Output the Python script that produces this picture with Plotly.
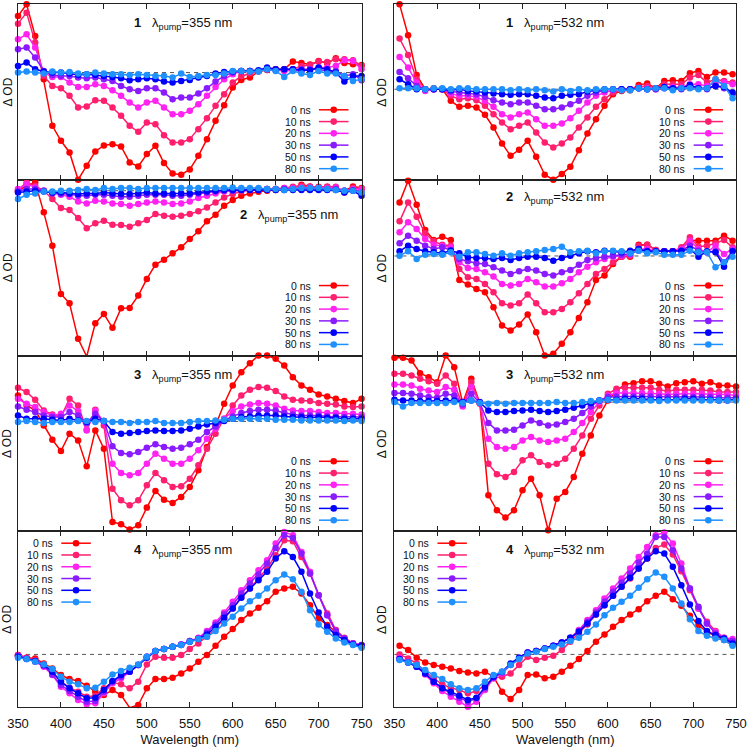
import plotly.graph_objects as go
from plotly.subplots import make_subplots

# ---------------- data (ΔOD, arbitrary units) ----------------
WL_FULL = list(range(350, 751, 10))    # 41 wavelengths (nm)
WL_SHIFT = list(range(356, 747, 10))   # 40 wavelengths (nm)
DELAYS = ["0 ns", "10 ns", "20 ns", "30 ns", "50 ns", "80 ns"]

# compound 1, pump 355 nm
c1_355_0 = [170, 205, 110, -20, -160, -205, -240, -322, -280, -237,
            -219, -215, -222, -270, -282, -245, -220, -272, -303, -307,
            -291, -250, -200, -145, -98, -45, -22, -15, 3, 8,
            10, 10, 33, 29, 24, 35, 28, 43, 29, 25, 23]
c1_355_10 = [147, 180, 90, -10, -40, -47, -70, -105, -102, -83,
             -85, -105, -130, -160, -178, -150, -155, -188, -210, -210,
             -200, -170, -137, -100, -65, -30, -10, -3, 5, 10,
             10, 8, 10, 20, 23, 33, 32, 40, 40, 37, 20]
c1_355_20 = [100, 115, 75, 0, -13, -13, -30, -43, -43, -35,
             -40, -53, -70, -90, -105, -90, -85, -105, -125, -125,
             -115, -95, -70, -43, -20, -5, 5, 5, 5, 10,
             7, 5, 7, 5, 10, 15, 15, 20, 37, 35, 10]
c1_355_30 = [70, 75, 45, 5, -7, -10, -10, -15, -17, -15,
             -20, -25, -40, -50, -55, -47, -47, -60, -80, -75,
             -75, -63, -47, -27, -10, 0, 5, 5, 5, 10,
             8, 10, 10, 10, 10, 10, 5, 5, -10, -5, -23]
c1_355_50 = [20, 30, 10, 3, 0, 0, -3, -7, -5, -7,
             -10, -13, -17, -23, -20, -17, -20, -27, -30, -25,
             -22, -15, -10, -3, 2, 3, 5, 5, 7, 15,
             10, 10, 10, 7, 7, 15, 10, 0, -27, -10, -10]
c1_355_80 = [0, 3, 0, -3, 3, 0, 2, -3, -5, 0,
             -3, -5, -5, -7, -5, -7, -10, -10, -15, -3,
             -13, -10, -7, -7, -3, 5, 5, 3, 3, 10,
             5, -13, 5, -3, -7, 5, -3, -3, -10, -25, -20]

# compound 1, pump 532 nm
c1_532_0 = [255, 162, 43, 0, 3, 0, -35, -53, -50, -55,
            -77, -115, -163, -200, -182, -155, -203, -257, -272, -255,
            -233, -183, -133, -90, -50, -15, -5, -3, 13, 17,
            3, 25, 27, 25, 48, 55, 37, 50, 50, 45]
c1_532_10 = [152, 103, 30, 0, 0, 0, -20, -30, -27, -33,
             -50, -75, -100, -120, -110, -100, -130, -160, -175, -163,
             -145, -115, -85, -53, -30, -10, -3, 0, 7, 10,
             3, 15, 15, 15, 35, 43, 20, 30, 25, 20]
c1_532_20 = [97, 65, 20, -5, 0, 0, -13, -20, -20, -23,
             -35, -53, -75, -85, -75, -70, -90, -110, -110, -103,
             -87, -65, -40, -20, -10, -3, 0, 0, 3, 3,
             0, 7, 7, 5, 15, 15, 10, 20, 20, 15]
c1_532_30 = [52, 33, 10, 0, 0, 0, -7, -10, -13, -15,
             -23, -33, -40, -45, -40, -40, -50, -60, -60, -55,
             -45, -35, -20, -10, -3, 0, 0, 0, 3, 0,
             0, 3, 0, 0, 5, 3, 0, 10, 3, -15]
c1_532_50 = [30, 15, 0, 0, 0, 0, -3, 0, -5, -7,
             -10, -13, -15, -17, -15, -15, -20, -25, -27, -20,
             -17, -15, -7, -3, 0, 0, 0, 0, 3, 0,
             3, 7, 3, 3, 13, 3, 3, 10, 7, -10]
c1_532_80 = [3, 3, 3, 0, 3, 3, 0, 3, 3, 0,
             0, 0, 0, -3, 0, -3, 0, -3, -7, 0,
             -5, 0, -3, 0, 0, 0, -3, -3, 3, 0,
             3, 3, -3, 3, 3, 0, 3, 30, 10, -27]

# compound 2, pump 355 nm
c2_355_0 = [0, 15, 25, -65, -165, -310, -338, -445, -498, -398,
            -370, -412, -353, -352, -315, -265, -222, -207, -188, -170,
            -145, -122, -92, -72, -45, -28, -15, -8, -3, 0,
            2, 5, 8, 18, 13, 10, 12, 8, 0, 13, 8]
c2_355_10 = [2, 25, 15, 0, -25, -52, -58, -82, -113, -98,
             -90, -102, -103, -108, -98, -88, -70, -75, -78, -75,
             -70, -62, -50, -35, -20, -10, -2, 2, 5, 5,
             5, 8, 12, 15, 12, 12, 12, 12, -5, 8, 5]
c2_355_20 = [5, 20, 10, 0, -5, -12, -18, -32, -38, -30,
             -32, -38, -40, -45, -40, -35, -32, -35, -40, -38,
             -32, -22, -15, -8, -2, 0, 2, 2, 5, 5,
             5, 8, 8, 10, 10, 8, 8, 10, 0, 5, 5]
c2_355_30 = [-2, 5, 5, 0, -8, -10, -10, -15, -15, -12,
             -12, -15, -18, -18, -15, -12, -12, -12, -15, -15,
             -12, -8, -5, -2, 0, 0, 2, 2, 2, 5,
             5, 5, 5, 5, 8, 5, 5, 5, 0, 2, -5]
c2_355_50 = [-5, -2, 0, -2, -5, -5, -8, -10, -8, -8,
             -5, -8, -10, -10, -8, -5, -8, -8, -10, -8,
             -8, -5, -2, 0, 2, 2, 2, 2, 2, 2,
             2, 2, 2, 2, 2, 2, 2, 2, -5, 0, -15]
c2_355_80 = [-25, -12, -8, -2, -2, 0, 0, 2, 5, 2,
             8, 5, 8, 8, 5, 8, 8, 8, 8, 8,
             8, 8, 8, 8, 8, 10, 8, 8, 8, 5,
             5, 2, 5, 8, 8, 8, 5, 2, 0, 0, -5]

# compound 2, pump 532 nm
c2_532_0 = [161, 226, 154, 78, 48, 58, 48, -72, -86, -99,
            -109, -154, -209, -224, -206, -176, -229, -299, -294, -264,
            -229, -186, -139, -72, -59, -24, -2, -2, 34, 34,
            18, 14, 14, 21, 48, 46, 46, 46, 61, 46]
c2_532_10 = [104, 161, 118, 68, 44, 34, 31, -39, -64, -69,
             -84, -109, -142, -149, -142, -116, -142, -169, -169, -159,
             -139, -112, -84, -54, -39, -19, -2, 1, 31, 34,
             18, 14, 14, 26, 56, 28, 31, 38, 48, 26]
c2_532_20 = [71, 101, 81, 51, 34, 31, 26, -19, -36, -39,
             -49, -62, -84, -89, -84, -69, -79, -92, -92, -82,
             -69, -49, -32, -19, -9, -2, 1, 4, 21, 21,
             14, 14, 14, 21, 46, 21, 11, 31, 6, 21]
c2_532_30 = [38, 61, 46, 31, 21, 26, 18, -9, -16, -22,
             -24, -34, -44, -54, -46, -39, -44, -54, -59, -49,
             -42, -26, -12, -6, -2, 1, 4, 6, 16, 16,
             14, 14, 14, 16, 31, 16, 11, 14, -19, 16]
c2_532_50 = [14, 31, 21, 14, 11, 8, 16, 8, -4, -6,
             -6, -9, -6, -12, -6, -2, -2, -6, -14, -6,
             1, 8, 14, 11, 16, 14, 11, 16, 21, 14,
             14, 14, 14, 16, 21, -2, 14, 11, -32, 14]
c2_532_80 = [1, 14, -9, 4, 6, 4, 11, -2, 11, 11,
             6, 1, 8, 1, 8, 11, 14, 18, 21, 28,
             11, 14, 16, 8, 14, 16, 14, 8, 16, 8,
             11, 4, 4, 4, 16, 11, 11, -34, -19, -2]

# compound 3, pump 355 nm
c3_355_0 = [78, 48, 33, -12, -55, -89, -37, -57, -135, -27,
            -82, -302, -309, -325, -312, -259, -209, -235, -245, -227,
            -197, -147, -77, -12, 53, 108, 148, 175, 198, 198,
            188, 168, 133, 108, 95, 81, 75, 68, 61, 55, 68]
c3_355_10 = [101, 88, 65, 33, 21, 13, 68, 48, -25, 35,
             -12, -202, -237, -252, -237, -192, -155, -177, -197, -195,
             -172, -132, -82, -37, 8, 48, 78, 95, 103, 101,
             91, 75, 65, 63, 61, 55, 53, 51, 45, 43, 45]
c3_355_20 = [68, 53, 43, 28, 18, 23, 48, 31, -27, 33,
             -2, -127, -155, -162, -155, -127, -97, -112, -127, -127,
             -112, -87, -52, -22, 8, 31, 45, 51, 55, 53,
             48, 38, 33, 31, 31, 28, 25, 25, 23, 23, 21]
c3_355_30 = [45, 35, 28, 18, 13, 13, 28, 18, -5, 23,
             1, -75, -95, -99, -92, -79, -69, -77, -82, -79,
             -69, -55, -32, -15, 3, 15, 25, 31, 35, 35,
             33, 25, 21, 18, 18, 18, 15, 15, 13, 13, 13]
c3_355_50 = [18, 8, 8, 8, 5, 3, 8, 3, -2, 8,
             1, -32, -37, -35, -32, -29, -27, -29, -29, -27,
             -22, -15, -9, -5, 1, 8, 13, 15, 18, 18,
             18, 15, 13, 13, 11, 13, 11, 11, 8, 8, 8]
c3_355_80 = [-2, 1, -2, -5, -2, -2, -2, 1, 1, -2,
             1, -2, -2, -5, -2, -2, 1, -5, -5, -5,
             -2, 1, 1, 3, 5, 8, 8, 8, 8, 8,
             5, 5, 5, 3, 3, 3, 3, 3, 1, 3, 1]

# compound 3, pump 532 nm
c3_532_0 = [133, 133, 125, 87, 75, 60, 140, 105, -3, 70,
            -3, -280, -325, -347, -325, -265, -230, -280, -385, -290,
            -270, -225, -155, -100, -40, 5, 35, 53, 57, 63,
            63, 55, 47, 57, 60, 63, 55, 60, 50, 50, 47]
c3_532_10 = [85, 85, 80, 70, 63, 55, 80, 55, -10, 60,
             -5, -185, -217, -225, -210, -175, -160, -180, -190, -185,
             -170, -140, -100, -50, -10, 25, 40, 43, 43, 43,
             43, 37, 33, 37, 37, 37, 37, 35, 30, 30, 30]
c3_532_20 = [53, 53, 50, 40, 35, 30, 45, 37, -13, 45,
             -3, -110, -135, -140, -135, -115, -105, -115, -120, -115,
             -110, -90, -63, -30, 0, 20, 27, 27, 27, 27,
             27, 25, 23, 25, 25, 25, 25, 23, 23, 23, 20]
c3_532_30 = [27, 27, 25, 20, 15, 13, 25, 20, -7, 25,
             -3, -63, -85, -85, -83, -70, -55, -63, -70, -67,
             -60, -50, -33, -13, 5, 15, 17, 17, 17, 17,
             17, 15, 15, 15, 15, 15, 15, 15, 13, 13, 13]
c3_532_50 = [7, 5, 5, 3, 3, 3, 5, 5, 0, 5,
             0, -25, -30, -30, -27, -25, -23, -27, -30, -27,
             -23, -17, -10, -3, 5, 7, 7, 10, 10, 10,
             7, 7, 7, 7, 10, 10, 7, 7, 5, 5, 7]
c3_532_80 = [0, -13, -3, -3, -3, -3, -3, 0, -3, 5,
             -3, -5, -3, -5, -3, -3, -3, -3, -3, 0,
             -3, -3, 0, 3, 5, 7, 5, 5, 5, 5,
             5, 3, 5, 5, 5, 5, 5, 5, 5, 5, 5]

# compound 4, pump 355 nm
c4_355_0 = [-2, -10, -12, -27, -42, -62, -74, -80, -94, -112,
            -122, -107, -122, -160, -152, -102, -74, -74, -70, -57,
            -42, -22, -2, 26, 53, 76, 103, 123, 140, 160,
            188, 198, 203, 183, 148, 108, 88, 66, 48, 33, 23]
c4_355_10 = [-2, -10, -17, -30, -52, -82, -100, -112, -127, -124,
             -102, -84, -90, -102, -82, -30, -7, -10, -10, -2,
             16, 33, 53, 78, 108, 138, 173, 198, 228, 258,
             298, 343, 340, 293, 243, 178, 123, 73, 50, 33, 26]
c4_355_20 = [-4, -12, -22, -37, -62, -97, -117, -137, -150, -147,
             -117, -87, -72, -52, -32, -7, 10, 16, 23, 30,
             40, 50, 70, 96, 126, 158, 193, 223, 253, 283,
             333, 368, 358, 308, 248, 178, 118, 68, 48, 33, 28]
c4_355_30 = [-4, -12, -20, -34, -60, -92, -110, -127, -142, -140,
             -112, -82, -67, -52, -32, -7, 10, 16, 23, 30,
             40, 48, 66, 90, 120, 148, 183, 213, 240, 273,
             320, 358, 350, 303, 243, 178, 118, 70, 48, 33, 28]
c4_355_50 = [-7, -14, -20, -32, -52, -82, -102, -117, -132, -130,
             -107, -80, -62, -52, -32, -10, 10, 16, 23, 28,
             38, 46, 60, 83, 110, 138, 170, 198, 223, 248,
             288, 310, 293, 248, 183, 126, 83, 58, 43, 30, 26]
c4_355_80 = [-10, -14, -22, -30, -44, -67, -82, -90, -102, -100,
             -82, -60, -50, -40, -30, -7, 10, 16, 23, 28,
             38, 46, 53, 70, 93, 113, 138, 160, 176, 198,
             223, 240, 226, 188, 133, 90, 68, 48, 36, 28, 20]

# compound 4, pump 532 nm
c4_532_0 = [26, 13, -10, -24, -32, -37, -42, -50, -54, -57,
            -52, -67, -112, -134, -107, -62, -60, -72, -67, -52,
            -34, -14, 10, 38, 60, 83, 103, 120, 136, 160,
            176, 188, 166, 146, 116, 88, 68, 56, 43, 30]
c4_532_10 = [0, -12, -27, -52, -72, -90, -100, -107, -117, -110,
             -92, -72, -67, -57, -32, -7, -17, -10, -4, 13,
             38, 63, 90, 120, 148, 176, 203, 228, 258, 288,
             320, 330, 300, 250, 193, 138, 98, 70, 50, 36]
c4_532_20 = [-10, -22, -37, -60, -87, -110, -127, -142, -157, -142,
             -107, -72, -57, -32, -12, 6, 10, 18, 26, 36,
             50, 73, 103, 133, 168, 198, 228, 258, 293, 323,
             358, 366, 333, 273, 198, 138, 93, 68, 50, 46]
c4_532_30 = [-14, -24, -37, -57, -82, -102, -117, -130, -142, -132,
             -102, -70, -54, -30, -10, 6, 10, 18, 26, 36,
             50, 70, 98, 126, 158, 188, 216, 243, 276, 303,
             353, 353, 313, 258, 198, 143, 93, 63, 48, 40]
c4_532_50 = [-14, -24, -37, -57, -82, -102, -112, -124, -137, -130,
             -97, -67, -52, -27, -10, 6, 10, 18, 26, 36,
             50, 68, 93, 120, 148, 176, 203, 230, 258, 288,
             310, 303, 263, 208, 150, 100, 70, 58, 48, 33]
c4_532_80 = [-17, -24, -32, -47, -62, -74, -90, -102, -107, -102,
             -82, -62, -52, -32, -14, 3, 8, 16, 23, 30,
             40, 50, 68, 90, 118, 140, 158, 176, 200, 226,
             246, 233, 198, 153, 106, 70, 56, 48, 43, 26]

# ---------------- styling ----------------
COLORS = ["#ff0000", "#ff1f6e", "#ff22f0", "#8a1aff", "#0000ff", "#1e90ff"]
FONT = "Liberation Sans, Arial, sans-serif"
TXT = "#111111"

# (row, col, compound, pump, wavelengths, series, y-range, label position, key position)
PANELS = [
    (1, 1, "1", "355", WL_FULL, [c1_355_0, c1_355_10, c1_355_20, c1_355_30, c1_355_50, c1_355_80], [-322, 206], (0.48, 0.89), "br"),
    (1, 2, "1", "532", WL_SHIFT, [c1_532_0, c1_532_10, c1_532_20, c1_532_30, c1_532_50, c1_532_80], [-272, 256], (0.47, 0.89), "br"),
    (2, 1, "2", "355", WL_FULL, [c2_355_0, c2_355_10, c2_355_20, c2_355_30, c2_355_50, c2_355_80], [-495, 33], (0.79, 0.795), "br"),
    (2, 2, "2", "532", WL_SHIFT, [c2_532_0, c2_532_10, c2_532_20, c2_532_30, c2_532_50, c2_532_80], [-299, 229], (0.47, 0.90), "br"),
    (3, 1, "3", "355", WL_FULL, [c3_355_0, c3_355_10, c3_355_20, c3_355_30, c3_355_50, c3_355_80], [-330, 198], (0.48, 0.886), "br"),
    (3, 2, "3", "532", WL_FULL, [c3_532_0, c3_532_10, c3_532_20, c3_532_30, c3_532_50, c3_532_80], [-388, 140], (0.47, 0.886), "br"),
    (4, 1, "4", "355", WL_FULL, [c4_355_0, c4_355_10, c4_355_20, c4_355_30, c4_355_50, c4_355_80], [-158, 370], (0.48, 0.89), "tl"),
    (4, 2, "4", "532", WL_SHIFT, [c4_532_0, c4_532_10, c4_532_20, c4_532_30, c4_532_50, c4_532_80], [-158, 370], (0.47, 0.89), "tl"),
]

fig = make_subplots(rows=4, cols=2, horizontal_spacing=0.046, vertical_spacing=0)

annotations = []
shapes = []

for (row, col, comp, pump, wl, series, yr, tpos, legpos) in PANELS:
    idx = (row - 1) * 2 + col
    sfx = "" if idx == 1 else str(idx)
    xr, yref = "x" + sfx, "y" + sfx
    for name, vals, colr in zip(DELAYS, series, COLORS):
        fig.add_trace(go.Scatter(
            x=wl, y=vals, mode="lines+markers", name=name, showlegend=False,
            line=dict(color=colr, width=1.5),
            marker=dict(color=colr, size=6.5, symbol="circle"),
            cliponaxis=False,
        ), row=row, col=col)

    # dashed zero line
    shapes.append(dict(type="line", xref=xr + " domain", yref=yref, x0=0, x1=1, y0=0, y1=0,
                       line=dict(color="#555555", width=1, dash="4px,4px"), layer="below"))

    # panel label
    annotations.append(dict(
        xref=xr + " domain", yref=yref + " domain", x=tpos[0], y=tpos[1],
        text="<b>%s</b>\u00a0\u00a0\u00a0λ<sub>pump</sub>=%s nm" % (comp, pump),
        showarrow=False, xanchor="center", yanchor="middle",
        font=dict(family=FONT, size=13, color=TXT)))

    # y-axis label
    annotations.append(dict(
        xref=xr + " domain", yref=yref + " domain", x=0, y=0.5,
        xshift=-10.5 if col == 1 else -12.5, text="Δ OD", textangle=-90,
        showarrow=False, xanchor="center", yanchor="middle", borderpad=0,
        font=dict(family=FONT, size=12, color=TXT)))

    # gnuplot-style key (text left, sample right)
    if legpos == "br":
        tx, lx0, lx1, y0 = 0.858, 0.876, 0.962, 0.398
    else:
        tx, lx0, lx1, y0 = 0.107, 0.126, 0.212, 0.932
    dy = 0.067
    for k, (name, colr) in enumerate(zip(DELAYS, COLORS)):
        yk = y0 - k * dy
        annotations.append(dict(
            xref=xr + " domain", yref=yref + " domain", x=tx, y=yk, text=name,
            showarrow=False, xanchor="right", yanchor="middle",
            font=dict(family=FONT, size=10.5, color=TXT)))
        shapes.append(dict(type="line", xref=xr + " domain", yref=yref + " domain",
                           x0=lx0, x1=lx1, y0=yk, y1=yk, line=dict(color=colr, width=1.5)))
        shapes.append(dict(type="circle", xref=xr + " domain", yref=yref + " domain",
                           xsizemode="pixel", ysizemode="pixel",
                           xanchor=(lx0 + lx1) / 2, yanchor=yk,
                           x0=-3.3, x1=3.3, y0=-3.3, y1=3.3,
                           fillcolor=colr, line=dict(width=0)))

    fig.update_yaxes(range=yr, row=row, col=col)

fig.update_xaxes(
    range=[350, 750], tickvals=[350, 400, 450, 500, 550, 600, 650, 700, 750],
    ticks="inside", ticklen=5, tickwidth=1, tickcolor="#222222",
    showline=True, linecolor="#222222", linewidth=1, mirror="ticks",
    showgrid=False, zeroline=False, showticklabels=False,
    tickfont=dict(family=FONT, size=13, color=TXT), ticklabelstandoff=4,
)
fig.update_xaxes(showticklabels=True, row=4)
fig.update_xaxes(title=dict(text="Wavelength (nm)", font=dict(family=FONT, size=13, color=TXT), standoff=5), row=4)

fig.update_yaxes(
    showline=True, linecolor="#222222", linewidth=1, mirror=True,
    ticks="", showticklabels=False, showgrid=False, zeroline=False,
)

fig.update_layout(
    xaxis=dict(domain=[0, 0.4785]), xaxis2=dict(domain=[0.5243, 1]),
    xaxis3=dict(domain=[0, 0.4785]), xaxis4=dict(domain=[0.5243, 1]),
    xaxis5=dict(domain=[0, 0.4785]), xaxis6=dict(domain=[0.5243, 1]),
    xaxis7=dict(domain=[0, 0.4785]), xaxis8=dict(domain=[0.5243, 1]),
    width=750, height=751,
    margin=dict(l=18, r=11, t=3, b=44),
    paper_bgcolor="white", plot_bgcolor="white",
    font=dict(family=FONT, color=TXT),
    annotations=annotations, shapes=shapes,
    showlegend=False,
    hovermode=False,
)

# remove the default 8px page margin so the figure sits at the window origin
fig.write_html("out.html", config={"displayModeBar": False, "staticPlot": True},
               post_script="document.body.style.margin='0px';")
